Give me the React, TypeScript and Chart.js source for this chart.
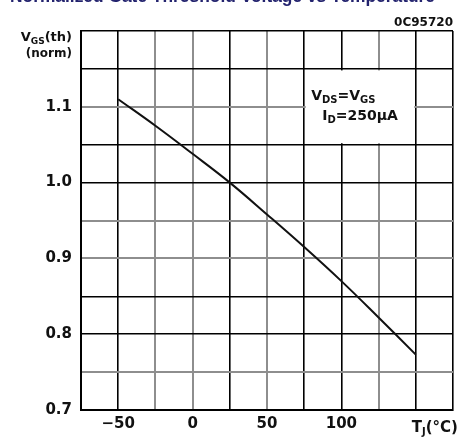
import React, { useEffect, useRef } from "react";
import { Chart, registerables } from "chart.js";

Chart.register(...registerables);

// ---- data ----
const temperatures = [-50, -25, 0, 25, 50, 75, 100, 125, 150];
const vgsNorm = [1.11, 1.075, 1.038, 1.0, 0.958, 0.915, 0.87, 0.822, 0.773];
const xTickLabels: Record<number, string> = { [-50]: "\u221250", 0: "0", 50: "50", 100: "100" };
const yTickLabels = [0.7, 0.8, 0.9, 1.0, 1.1];
const titleText = "Normalized Gate Threshold Voltage vs Temperature";
const codeText = "0C95720";

// ---- styles ----
const xDark = [-75, -50, 25, 75, 100, 150, 175];
const yDark = [0.7, 0.8, 0.85, 1.0, 1.05, 1.15, 1.2];
const FONT = "'DejaVu Sans', sans-serif";

type Part = { t: string; sub?: boolean };

function drawRich(ctx: CanvasRenderingContext2D, x: number, y: number, parts: Part[], size: number, subSize: number, align: "left" | "right" = "left") {
  ctx.save();
  ctx.textBaseline = "alphabetic";
  ctx.textAlign = "left";
  let total = 0;
  for (const p of parts) {
    ctx.font = `bold ${p.sub ? subSize : size}px ${FONT}`;
    total += ctx.measureText(p.t).width;
  }
  let cx = align === "right" ? x - total : x;
  for (const p of parts) {
    ctx.font = `bold ${p.sub ? subSize : size}px ${FONT}`;
    ctx.fillText(p.t, cx, p.sub ? y + size * 0.22 : y);
    cx += ctx.measureText(p.t).width;
  }
  ctx.restore();
}

const near = (v: number, list: number[]) => list.some((d) => Math.abs(d - v) < 1e-6);

const decorPlugin = {
  id: "decor",
  beforeDatasetsDraw(chart: any) {
    const { ctx, scales } = chart;
    const x = scales.x, y = scales.y;
    const l = x.getPixelForValue(75), r = x.getPixelForValue(150);
    const t = y.getPixelForValue(1.15), b = y.getPixelForValue(1.05);
    ctx.save();
    ctx.fillStyle = "#fff";
    ctx.fillRect(l + 1.5, t + 1.5, r - l - 3, b - t - 3);
    ctx.fillStyle = "#111";
    drawRich(ctx, l + 7, t + 31, [{ t: "V" }, { t: "DS", sub: true }, { t: "=V" }, { t: "GS", sub: true }], 14, 10);
    drawRich(ctx, l + 18, t + 51, [{ t: "I" }, { t: "D", sub: true }, { t: "=250\u00b5A" }], 14, 10);
    ctx.restore();
  },
  afterDraw(chart: any) {
    const { ctx, scales, width } = chart;
    const x = scales.x, y = scales.y;
    ctx.save();
    // title (cut at top)
    ctx.font = `bold 18px 'Liberation Sans', sans-serif`;
    const w = ctx.measureText(titleText).width;
    ctx.translate(10, 1.5);
    ctx.scale(425 / w, 1);
    ctx.fillStyle = "#23236e";
    ctx.textBaseline = "alphabetic";
    ctx.fillText(titleText, 0, 0);
    ctx.restore();

    ctx.save();
    ctx.fillStyle = "#111";
    ctx.font = `bold 12px ${FONT}`;
    ctx.textAlign = "right";
    ctx.textBaseline = "middle";
    ctx.fillText(codeText, width - 12, 23);
    ctx.restore();

    ctx.save();
    ctx.fillStyle = "#111";
    const axR = x.left - 9;
    drawRich(ctx, axR, 41, [{ t: "V" }, { t: "GS", sub: true }, { t: "(th)" }], 13, 9, "right");
    drawRich(ctx, axR, 57, [{ t: "(norm)" }], 12, 9, "right");
    // x unit label
    drawRich(ctx, x.getPixelForValue(150) - 4, y.bottom + 22, [{ t: "T" }, { t: "J", sub: true }, { t: "(\u00b0C)" }], 15, 10);
    ctx.restore();
  },
};

export default function App() {
  const ref = useRef<HTMLCanvasElement | null>(null);
  useEffect(() => {
    if (!ref.current) return;
    const chart = new Chart(ref.current, {
      type: "line",
      data: {
        datasets: [
          {
            data: temperatures.map((t, i) => ({ x: t, y: vgsNorm[i] })),
            borderColor: "#111",
            borderWidth: 2,
            pointRadius: 0,
            tension: 0.4,
            fill: false,
          },
        ],
      },
      options: {
        responsive: false,
        animation: false,
        layout: { padding: { top: 31, right: 12, left: 0, bottom: 0 } },
        plugins: { legend: { display: false }, tooltip: { enabled: false }, title: { display: false } },
        scales: {
          x: {
            type: "linear",
            min: -75,
            max: 175,
            afterFit: (s: any) => { s.height = 28; },
            ticks: {
              stepSize: 25,
              autoSkip: false,
              maxRotation: 0,
              padding: 5,
              color: "#111",
              font: { family: FONT, size: 15, weight: "bold" },
              callback: (v: any) => xTickLabels[Math.round(v)] ?? "",
            },
            grid: {
              drawTicks: false,
              color: (c: any) => (near(c.tick?.value, xDark) ? "#000" : "#8e8e8e"),
              lineWidth: (c: any) => (near(c.tick?.value, xDark) ? 1.6 : 2),
            },
            border: { display: true, color: "#000", width: 2 },
          },
          y: {
            type: "linear",
            min: 0.7,
            max: 1.2,
            afterFit: (s: any) => { s.width = 81; },
            ticks: {
              stepSize: 0.05,
              autoSkip: false,
              padding: 9,
              color: "#111",
              font: { family: FONT, size: 15, weight: "bold" },
              callback: (v: any) => (near(v, yTickLabels) ? Number(v).toFixed(1) : ""),
            },
            grid: {
              drawTicks: false,
              color: (c: any) => (near(c.tick?.value, yDark) ? "#000" : "#8e8e8e"),
              lineWidth: (c: any) => (near(c.tick?.value, yDark) ? 1.6 : 2),
            },
            border: { display: true, color: "#000", width: 2 },
          },
        },
      },
      plugins: [decorPlugin],
    } as any);
    return () => chart.destroy();
  }, []);
  return (
    <div style={{ position: "absolute", left: 0, top: 0, width: 465, height: 438, background: "#fff" }}>
      <canvas ref={ref} width={465} height={438} />
    </div>
  );
}
